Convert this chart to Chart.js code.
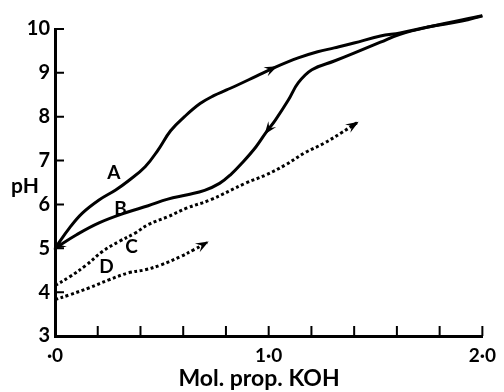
<!DOCTYPE html>
<html>
<head>
<meta charset="utf-8">
<script src="https://cdn.jsdelivr.net/npm/chart.js@4/dist/chart.umd.min.js"></script>
<style>
  html, body { margin: 0; background: #fff; }
  #wrap { width: 504px; height: 392px; }
</style>
</head>
<body>
<div id="wrap"><canvas id="chart"></canvas></div>
<script>
// curve A: forward titration (solid)
const aX = [0, 0.069, 0.128, 0.206, 0.284, 0.344, 0.422, 0.482, 0.541, 0.606, 0.679, 0.743, 0.803, 0.862, 0.94, 1.032, 1.138, 1.229, 1.307, 1.399, 1.523, 1.615, 1.752, 1.904, 2.0];
const aY = [5.0, 5.47, 5.80, 6.10, 6.33, 6.54, 6.86, 7.24, 7.68, 8.0, 8.30, 8.48, 8.61, 8.74, 8.92, 9.13, 9.34, 9.48, 9.57, 9.68, 9.84, 9.91, 10.05, 10.18, 10.3];
// curve B: back titration (solid)
const bX = [0, 0.101, 0.206, 0.33, 0.436, 0.528, 0.62, 0.70, 0.77, 0.82, 0.88, 0.94, 0.986, 1.032, 1.092, 1.138, 1.202, 1.307, 1.399, 1.523, 1.615, 1.752, 2.0];
const bY = [5.0, 5.31, 5.58, 5.81, 5.97, 6.12, 6.22, 6.32, 6.48, 6.67, 6.97, 7.31, 7.63, 7.93, 8.38, 8.77, 9.07, 9.27, 9.45, 9.70, 9.88, 10.05, 10.3];
// curve C (dotted)
const cX = [0, 0.069, 0.147, 0.22, 0.298, 0.376, 0.436, 0.528, 0.619, 0.725, 0.894, 0.986, 1.078, 1.17, 1.261, 1.339, 1.413];
const cY = [4.15, 4.35, 4.62, 4.92, 5.15, 5.35, 5.54, 5.72, 5.92, 6.10, 6.49, 6.67, 6.90, 7.18, 7.40, 7.63, 7.86];
// curve D (dotted)
const dX = [0, 0.069, 0.161, 0.252, 0.344, 0.422, 0.495, 0.587, 0.651, 0.711];
const dY = [3.83, 3.94, 4.10, 4.28, 4.44, 4.51, 4.62, 4.81, 4.97, 5.13];

const curveNames = ['A', 'B', 'C', 'D'];
const nameX = [0.275, 0.307, 0.358, 0.241];
const nameY = [6.72, 5.90, 5.03, 4.57];

const xLabels = { 0: '·0', 1: '1·0', 2: '2·0' };
const xTitle = 'Mol. prop. KOH';
const yTitle = 'pH';

// arrowheads: dataset index, point index, direction along data order (+1 / -1)
const arrows = [
  { ds: 0, i: 15, dir: 1 },
  { ds: 1, i: 12, dir: -1 },
  { ds: 1, i: 0, dir: -1 },
  { ds: 2, i: 16, dir: 1 },
  { ds: 3, i: 9, dir: 1 }
];

const pts = (xs, ys) => xs.map((x, i) => ({ x, y: ys[i] }));
const FONT = 'Lato';

function curve(xs, ys, dotted) {
  return {
    data: pts(xs, ys),
    borderColor: '#000',
    borderWidth: 3,
    borderDash: dotted ? [3, 2.6] : [],
    pointRadius: 0,
    tension: 0.4,
    clip: false
  };
}

const decor = {
  id: 'decor',
  afterDatasetsDraw(chart) {
    const { ctx, chartArea: ca, scales: { x, y } } = chart;
    ctx.save();
    ctx.strokeStyle = '#000';
    ctx.fillStyle = '#000';
    ctx.lineWidth = 2;
    ctx.beginPath();
    y.ticks.forEach(t => {
      const py = y.getPixelForValue(t.value);
      ctx.moveTo(ca.left, py); ctx.lineTo(ca.left + 9, py);
    });
    x.ticks.forEach(t => {
      const px = x.getPixelForValue(t.value);
      ctx.moveTo(px, ca.bottom); ctx.lineTo(px, ca.bottom - 10);
    });
    ctx.stroke();

    // arrowheads
    arrows.forEach(a => {
      const meta = chart.getDatasetMeta(a.ds).data;
      const p = meta[a.i];
      let q = meta[a.i - a.dir];
      let ang;
      if (q) ang = Math.atan2(p.y - q.y, p.x - q.x);
      else { q = meta[a.i + a.dir]; ang = Math.atan2(p.y - q.y, p.x - q.x) + Math.PI; }
      const L = 12, w = 0.42;
      ctx.beginPath();
      ctx.moveTo(p.x + Math.cos(ang) * 2, p.y + Math.sin(ang) * 2);
      ctx.lineTo(p.x - L * Math.cos(ang - w), p.y - L * Math.sin(ang - w));
      ctx.lineTo(p.x - 6 * Math.cos(ang), p.y - 6 * Math.sin(ang));
      ctx.lineTo(p.x - L * Math.cos(ang + w), p.y - L * Math.sin(ang + w));
      ctx.closePath();
      ctx.fill();
    });

    // curve names
    ctx.font = `bold 19px ${FONT}`;
    ctx.textAlign = 'center';
    ctx.textBaseline = 'middle';
    curveNames.forEach((n, i) => {
      ctx.fillText(n, x.getPixelForValue(nameX[i]), y.getPixelForValue(nameY[i]));
    });

    // axis titles
    ctx.font = `bold 21px ${FONT}`;
    ctx.fillText(yTitle, 25, 186);
    ctx.font = `bold 23px ${FONT}`;
    ctx.fillText(xTitle, 259, 379);
    ctx.restore();
  }
};

new Chart(document.getElementById('chart'), {
  type: 'line',
  data: {
    datasets: [
      curve(aX, aY, false),
      curve(bX, bY, false),
      curve(cX, cY, true),
      curve(dX, dY, true)
    ]
  },
  options: {
    responsive: true,
    maintainAspectRatio: false,
    animation: false,
    layout: { padding: { top: 29, right: 13, left: 0, bottom: 0 } },
    plugins: {
      legend: { display: false },
      tooltip: { enabled: false }
    },
    scales: {
      x: {
        type: 'linear',
        min: 0,
        max: 2,
        afterFit: s => { s.height = 56; },
        border: { display: true, color: '#000', width: 3 },
        grid: { display: true, drawOnChartArea: false, drawTicks: false },
        ticks: {
          stepSize: 0.2,
          autoSkip: false,
          maxRotation: 0,
          padding: 8,
          color: '#000',
          font: { family: FONT, size: 19, weight: 'bold' },
          callback: v => {
            const r = Math.round(v);
            return Math.abs(v - r) < 1e-6 ? xLabels[r] : '';
          }
        }
      },
      y: {
        min: 3,
        max: 10,
        afterFit: s => { s.width = 55; },
        border: { display: true, color: '#000', width: 3 },
        grid: { display: true, drawOnChartArea: false, drawTicks: false },
        ticks: {
          stepSize: 1,
          padding: 5,
          color: '#000',
          font: { family: FONT, size: 20, weight: 'bold' }
        }
      }
    }
  },
  plugins: [decor]
});
</script>
</body>
</html>
